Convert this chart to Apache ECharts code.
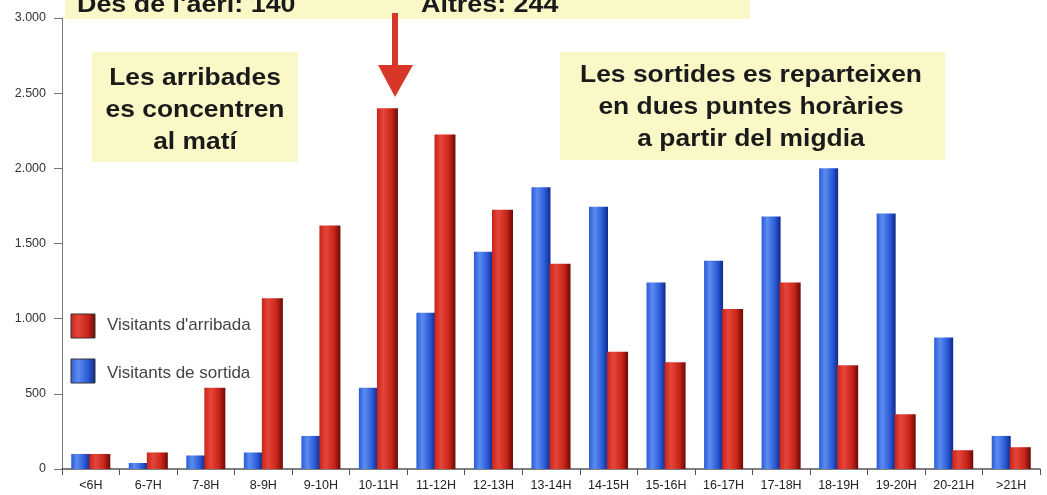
<!DOCTYPE html>
<html>
<head>
<meta charset="utf-8">
<script src="https://cdn.jsdelivr.net/npm/echarts@6/dist/echarts.min.js"></script>
<style>
  html, body { margin: 0; padding: 0; background: #fff; }
  #chart { width: 1047px; height: 495px; }
</style>
</head>
<body>
<div id="chart"></div>
<script>
const hours = ['<6H', '6-7H', '7-8H', '8-9H', '9-10H', '10-11H', '11-12H', '12-13H', '13-14H',
    '14-15H', '15-16H', '16-17H', '17-18H', '18-19H', '19-20H', '20-21H', '>21H'];
const sortida = [100, 40, 90, 110, 220, 540, 1040, 1445, 1875, 1745, 1240, 1385, 1680, 2000, 1700, 875, 220];
const arribada = [100, 110, 540, 1135, 1620, 2400, 2225, 1725, 1365, 780, 710, 1065, 1240, 690, 365, 125, 145];
const yTicks = [0, 500, 1000, 1500, 2000, 2500, 3000];

const chart = echarts.init(document.getElementById('chart'));

// horizontal gradient to fake the 3D shading of the bars
const shade = (light, mid, dark) => new echarts.graphic.LinearGradient(0, 0, 1, 0, [
    {offset: 0, color: mid},
    {offset: 0.3, color: light},
    {offset: 0.7, color: mid},
    {offset: 1, color: dark}
]);
const blueFill = () => shade('#5b8cf0', '#2b5bd6', '#10288a');
const redFill = () => shade('#e5463a', '#c8241a', '#6a0a06');

const boxFill = '#fbf8c8';
const noteFont = 'bold 24px Liberation Sans';

const options = {
    animation: false,
    grid: {left: 62, right: 7, top: 18, bottom: 26},
    xAxis: {
        type: 'category',
        data: hours,
        axisLine: {lineStyle: {color: '#555', width: 1.5}},
        axisTick: {show: true, length: 6, lineStyle: {color: '#555'}},
        axisLabel: {color: '#222', fontFamily: 'Liberation Sans', fontSize: 12.5, margin: 10}
    },
    yAxis: {
        type: 'value',
        min: 0,
        max: 3000,
        interval: 500,
        splitLine: {show: false},
        axisLine: {show: true, lineStyle: {color: '#777'}},
        axisTick: {show: true, length: 8, lineStyle: {color: '#777'}},
        axisLabel: {
            color: '#333', fontFamily: 'Liberation Sans', fontSize: 12.5, margin: 16,
            formatter: v => yTicks.includes(v) ? String(v).replace(/\B(?=(\d{3})+(?!\d))/g, '.') : ''
        }
    },
    series: [
        {
            name: 'Visitants de sortida',
            type: 'bar',
            data: sortida,
            barWidth: 19,
            barGap: '-5%',
            itemStyle: {color: blueFill()}
        },
        {
            name: "Visitants d'arribada",
            type: 'bar',
            data: arribada,
            barWidth: 21,
            z: 3,
            itemStyle: {color: redFill()}
        }
    ],
    graphic: [
        // top strip (cut off in the original)
        {type: 'rect', shape: {x: 65, y: -4, width: 685, height: 23}, style: {fill: boxFill}, z: 1},
        {type: 'text', x: 77, y: -7, scaleX: 1.12, style: {text: "Des de l'aeri: 140", font: noteFont, fill: '#1a1a1a'}, z: 2},
        {type: 'text', x: 421, y: -7, scaleX: 1.12, style: {text: 'Altres: 244', font: noteFont, fill: '#1a1a1a'}, z: 2},
        // left note
        {type: 'rect', shape: {x: 92, y: 52, width: 206, height: 110}, style: {fill: boxFill}, z: 1},
        {type: 'text', x: 195, y: 62, scaleX: 1.1, style: {text: 'Les arribades\nes concentren\nal matí', font: noteFont, fill: '#1a1a1a', align: 'center', lineHeight: 32}, z: 2},
        // right note
        {type: 'rect', shape: {x: 560, y: 52, width: 385, height: 108}, style: {fill: boxFill}, z: 1},
        {type: 'text', x: 751, y: 59, scaleX: 1.1, style: {text: 'Les sortides es reparteixen\nen dues puntes horàries\na partir del migdia', font: noteFont, fill: '#1a1a1a', align: 'center', lineHeight: 32}, z: 2},
        // arrow towards the 10-11H peak
        {type: 'rect', shape: {x: 392, y: 13, width: 6, height: 55}, style: {fill: '#d9362a'}, z: 3},
        {type: 'polygon', shape: {points: [[378, 65], [413, 65], [395, 97]]}, style: {fill: '#d9362a'}, z: 3},
        // legend
        {type: 'rect', shape: {x: 71, y: 314, width: 24, height: 24}, style: {fill: redFill(), stroke: '#333', lineWidth: 1}, z: 3},
        {type: 'text', x: 107, y: 317, style: {text: "Visitants d'arribada", font: '17px Liberation Sans', fill: '#444'}, z: 3},
        {type: 'text', x: 107, y: 365, style: {text: 'Visitants de sortida', font: '17px Liberation Sans', fill: '#444'}, z: 3},
        {type: 'rect', shape: {x: 71, y: 359, width: 24, height: 24}, style: {fill: blueFill(), stroke: '#333', lineWidth: 1}, z: 3}
    ]
};

chart.setOption(options);
</script>
</body>
</html>
